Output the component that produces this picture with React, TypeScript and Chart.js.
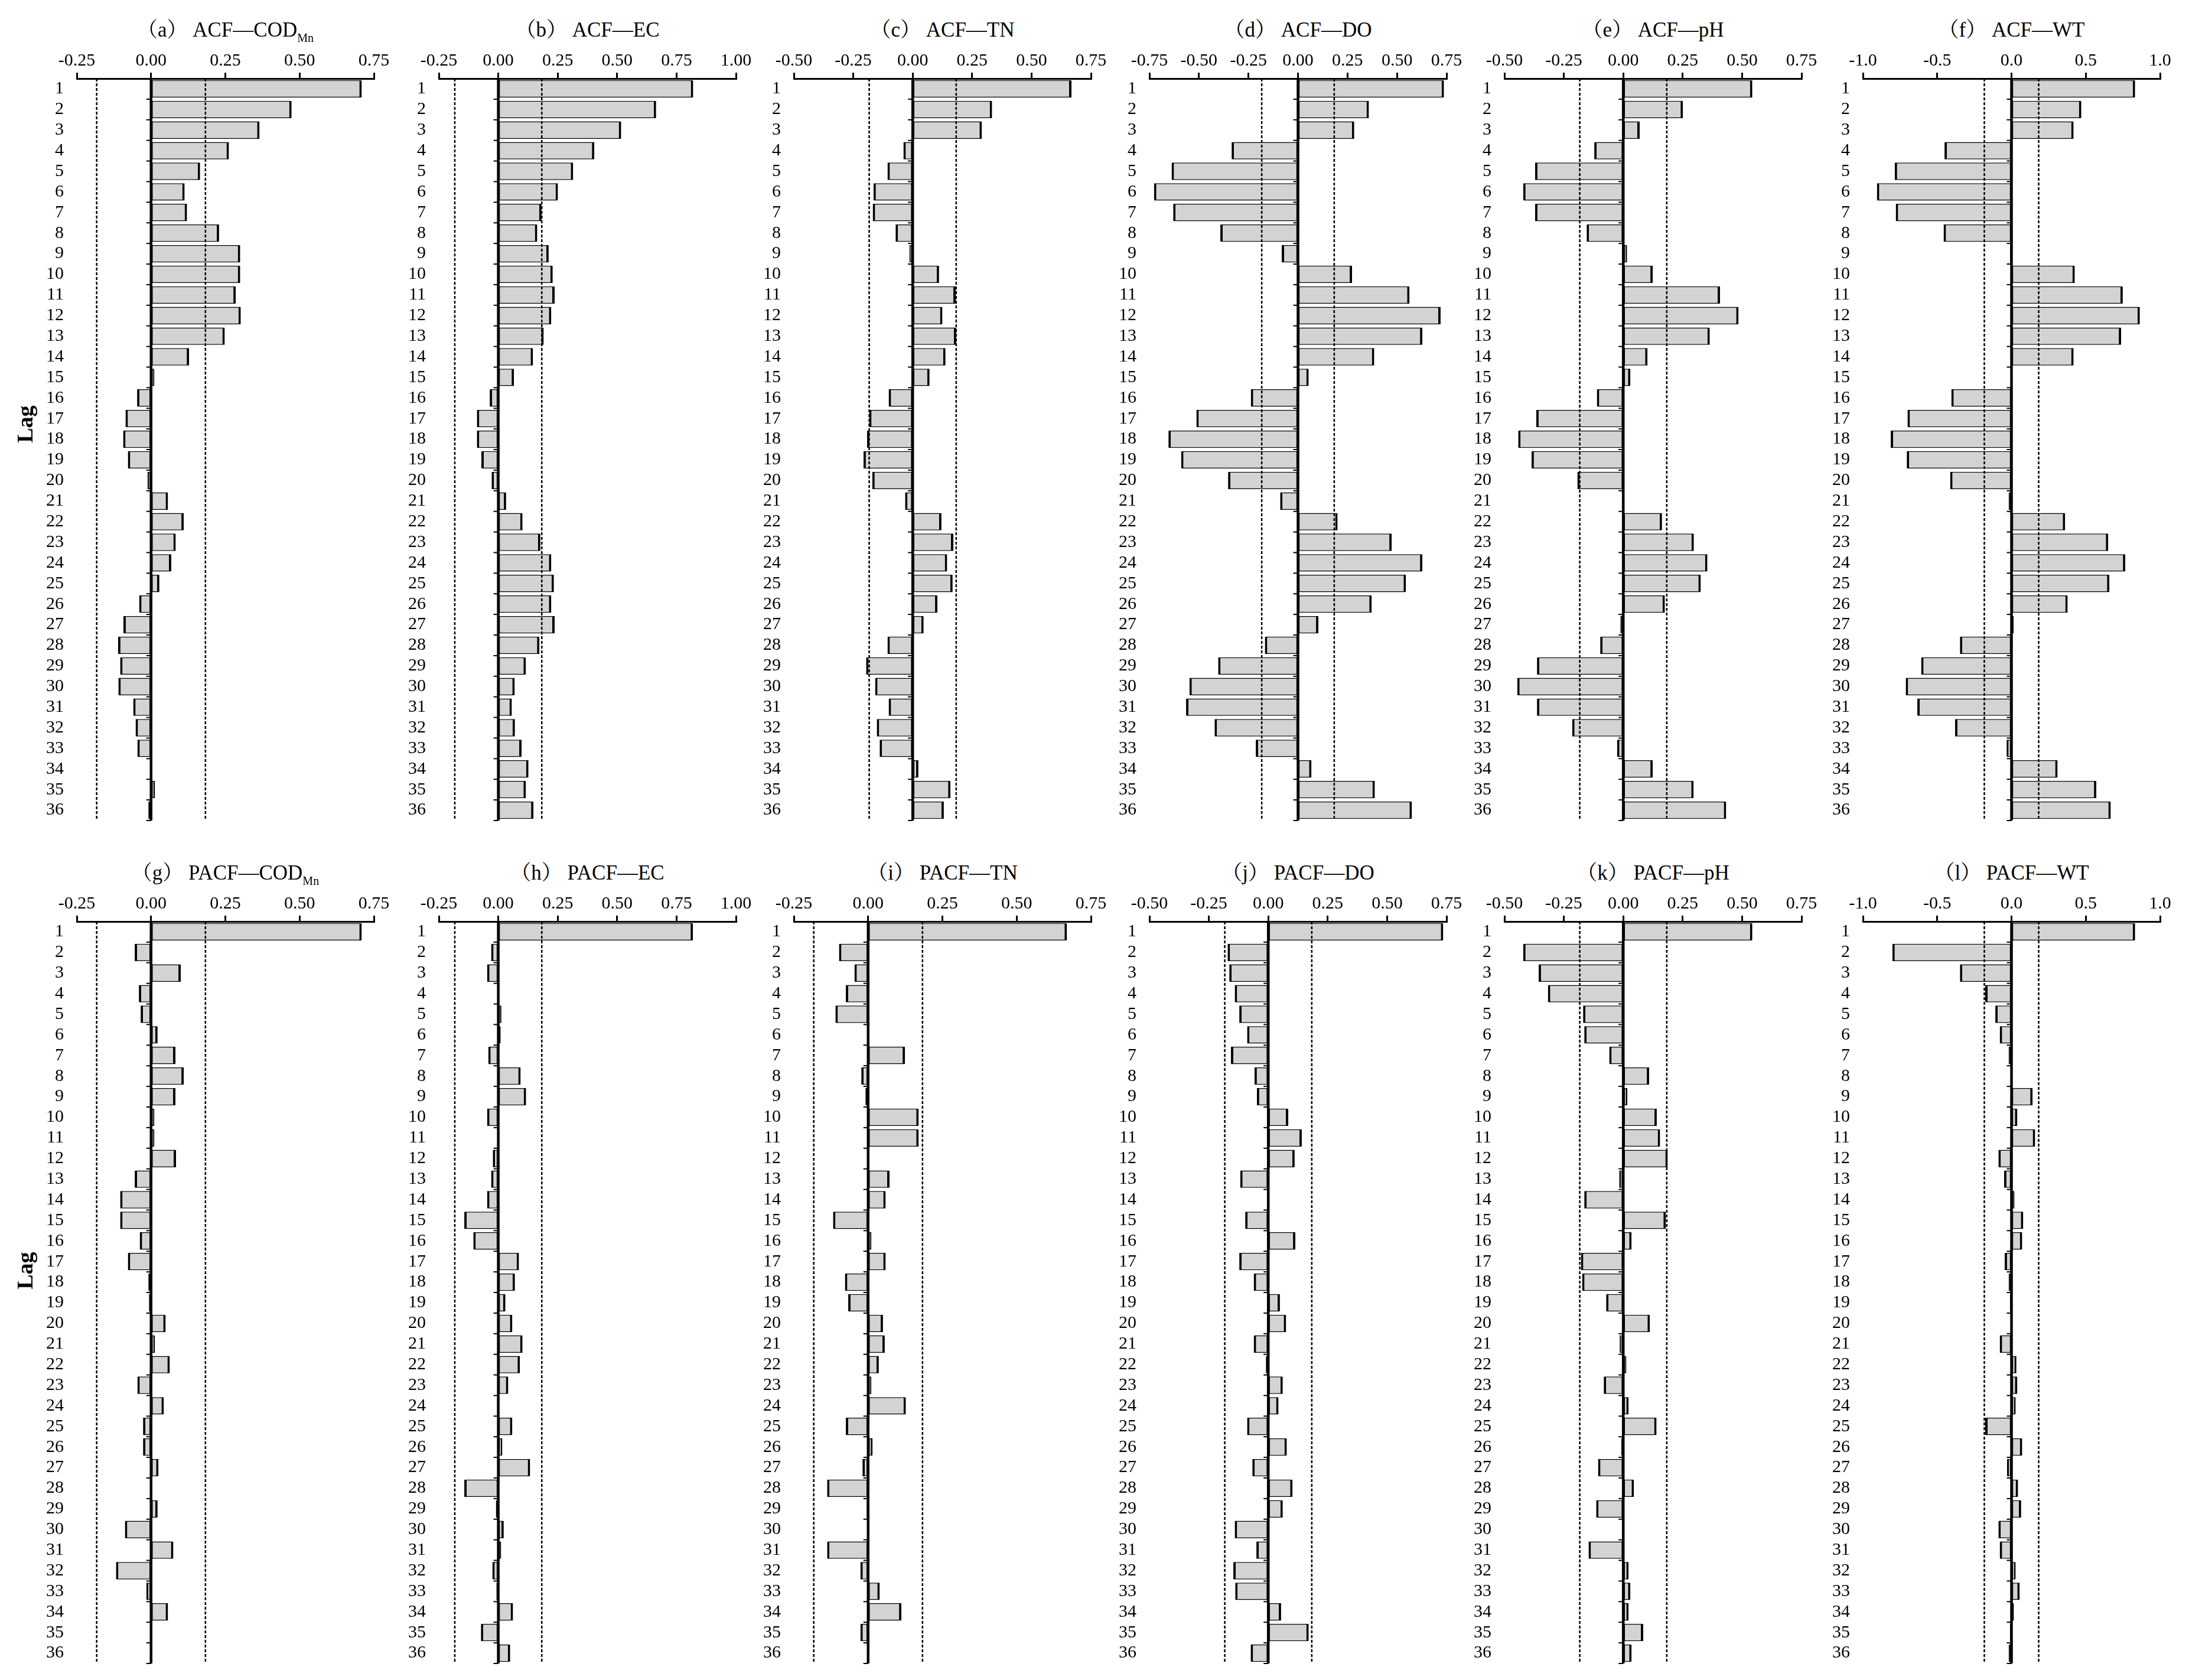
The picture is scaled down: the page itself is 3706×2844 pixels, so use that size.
import React, { useEffect, useRef } from 'react';
import { Chart, registerables } from 'chart.js';

Chart.register(...registerables);

// ---------- data ----------
const LAGS = ['1', '2', '3', '4', '5', '6', '7', '8', '9', '10', '11', '12', '13', '14', '15', '16', '17', '18',
  '19', '20', '21', '22', '23', '24', '25', '26', '27', '28', '29', '30', '31', '32', '33', '34', '35', '36'];

const ACF_CODMN = [0.709, 0.473, 0.365, 0.262, 0.165, 0.113, 0.121, 0.229, 0.300, 0.300, 0.285, 0.302, 0.248, 0.128, 0.011, -0.047, -0.086, -0.094, -0.078, -0.012, 0.057, 0.110, 0.083, 0.068, 0.028, -0.040, -0.093, -0.111, -0.104, -0.110, -0.060, -0.052, -0.046, 0.002, 0.013, -0.009];
const ACF_EC = [0.820, 0.664, 0.517, 0.404, 0.315, 0.251, 0.182, 0.164, 0.212, 0.229, 0.237, 0.223, 0.191, 0.146, 0.066, -0.036, -0.090, -0.090, -0.071, -0.028, 0.033, 0.102, 0.177, 0.223, 0.234, 0.223, 0.237, 0.173, 0.116, 0.069, 0.057, 0.070, 0.098, 0.127, 0.116, 0.148];
const ACF_TN = [0.668, 0.334, 0.291, -0.039, -0.106, -0.165, -0.168, -0.072, -0.014, 0.111, 0.181, 0.125, 0.183, 0.138, 0.071, -0.101, -0.183, -0.192, -0.207, -0.170, -0.032, 0.121, 0.171, 0.145, 0.168, 0.104, 0.046, -0.106, -0.196, -0.158, -0.101, -0.151, -0.139, 0.024, 0.159, 0.131];
const ACF_DO = [0.737, 0.358, 0.284, -0.335, -0.638, -0.727, -0.630, -0.392, -0.082, 0.273, 0.563, 0.720, 0.628, 0.385, 0.054, -0.238, -0.513, -0.654, -0.590, -0.353, -0.090, 0.200, 0.473, 0.628, 0.545, 0.372, 0.103, -0.167, -0.403, -0.548, -0.565, -0.421, -0.213, 0.068, 0.388, 0.575];
const ACF_PH = [0.543, 0.251, 0.069, -0.122, -0.371, -0.421, -0.371, -0.154, 0.016, 0.124, 0.407, 0.485, 0.364, 0.102, 0.030, -0.111, -0.366, -0.442, -0.386, -0.193, 0.000, 0.163, 0.297, 0.354, 0.326, 0.175, -0.012, -0.097, -0.363, -0.446, -0.363, -0.215, -0.026, 0.124, 0.296, 0.433];
const ACF_WT = [0.832, 0.470, 0.418, -0.451, -0.786, -0.906, -0.779, -0.457, -0.010, 0.426, 0.749, 0.864, 0.738, 0.418, 0.000, -0.405, -0.700, -0.813, -0.705, -0.413, -0.019, 0.361, 0.651, 0.766, 0.659, 0.378, 0.014, -0.347, -0.608, -0.712, -0.634, -0.380, -0.033, 0.310, 0.571, 0.668];

const PACF_CODMN = [0.709, -0.055, 0.100, -0.041, -0.035, 0.022, 0.082, 0.110, 0.082, 0.011, 0.011, 0.084, -0.055, -0.104, -0.104, -0.038, -0.078, -0.009, -0.007, 0.049, 0.013, 0.063, -0.046, 0.043, -0.027, -0.027, 0.025, 0.000, 0.022, -0.088, 0.075, -0.118, -0.016, 0.057, 0.000, 0.000];
const PACF_EC = [0.819, -0.030, -0.047, 0.000, 0.013, 0.010, -0.042, 0.094, 0.117, -0.047, 0.000, -0.023, -0.030, -0.047, -0.143, -0.105, 0.087, 0.070, 0.030, 0.059, 0.102, 0.091, 0.042, -0.005, 0.059, 0.017, 0.134, -0.143, -0.010, 0.023, 0.012, -0.025, -0.008, 0.062, -0.073, 0.050];
const PACF_TN = [0.669, -0.098, -0.046, -0.075, -0.110, 0.000, 0.124, -0.023, -0.009, 0.170, 0.170, -0.002, 0.072, 0.059, -0.118, 0.011, 0.059, -0.078, -0.067, 0.050, 0.056, 0.036, 0.011, 0.127, -0.075, 0.015, -0.019, -0.138, -0.005, 0.000, -0.138, -0.026, 0.039, 0.112, -0.026, 0.000];
const PACF_DO = [0.736, -0.171, -0.164, -0.141, -0.122, -0.089, -0.157, -0.058, -0.048, 0.084, 0.141, 0.111, -0.118, 0.005, -0.097, 0.114, -0.122, -0.061, 0.049, 0.075, -0.061, -0.010, 0.061, 0.043, -0.089, 0.078, -0.067, 0.102, 0.061, -0.141, -0.050, -0.147, -0.139, 0.054, 0.170, -0.074];
const PACF_PH = [0.543, -0.421, -0.356, -0.317, -0.169, -0.164, -0.059, 0.109, 0.017, 0.141, 0.155, 0.187, -0.017, -0.164, 0.179, 0.035, -0.178, -0.173, -0.072, 0.112, -0.015, 0.013, -0.082, 0.022, 0.140, -0.008, -0.106, 0.045, -0.114, 0.004, -0.146, 0.022, 0.030, 0.022, 0.084, 0.035];
const PACF_WT = [0.832, -0.802, -0.347, -0.177, -0.109, -0.079, -0.019, 0.000, 0.142, 0.039, 0.159, -0.088, -0.050, 0.020, 0.079, 0.072, -0.046, -0.019, -0.011, -0.003, -0.079, 0.033, 0.039, 0.028, -0.177, 0.072, -0.030, 0.044, 0.065, -0.088, -0.079, 0.028, 0.055, 0.016, -0.011, -0.019];

// tick values of the top axes
const TICKS_A = [-0.25, 0, 0.25, 0.5, 0.75];
const TICKS_B = [-0.25, 0, 0.25, 0.5, 0.75, 1.0];
const TICKS_C = [-0.5, -0.25, 0, 0.25, 0.5, 0.75];
const TICKS_D = [-0.75, -0.5, -0.25, 0, 0.25, 0.5, 0.75];
const TICKS_W = [-1.0, -0.5, 0, 0.5, 1.0];

// 95% confidence limit (dashed lines)
const CONF_LIMIT = 0.183;

const PANELS = [
  { tag: 'a', kind: 'ACF', name: 'COD', sub: 'Mn', values: ACF_CODMN, ticks: TICKS_A, dec: 2 },
  { tag: 'b', kind: 'ACF', name: 'EC', sub: '', values: ACF_EC, ticks: TICKS_B, dec: 2 },
  { tag: 'c', kind: 'ACF', name: 'TN', sub: '', values: ACF_TN, ticks: TICKS_C, dec: 2 },
  { tag: 'd', kind: 'ACF', name: 'DO', sub: '', values: ACF_DO, ticks: TICKS_D, dec: 2 },
  { tag: 'e', kind: 'ACF', name: 'pH', sub: '', values: ACF_PH, ticks: TICKS_C, dec: 2 },
  { tag: 'f', kind: 'ACF', name: 'WT', sub: '', values: ACF_WT, ticks: TICKS_W, dec: 1 },
  { tag: 'g', kind: 'PACF', name: 'COD', sub: 'Mn', values: PACF_CODMN, ticks: TICKS_A, dec: 2 },
  { tag: 'h', kind: 'PACF', name: 'EC', sub: '', values: PACF_EC, ticks: TICKS_B, dec: 2 },
  { tag: 'i', kind: 'PACF', name: 'TN', sub: '', values: PACF_TN, ticks: TICKS_A, dec: 2 },
  { tag: 'j', kind: 'PACF', name: 'DO', sub: '', values: PACF_DO, ticks: TICKS_C, dec: 2 },
  { tag: 'k', kind: 'PACF', name: 'pH', sub: '', values: PACF_PH, ticks: TICKS_C, dec: 2 },
  { tag: 'l', kind: 'PACF', name: 'WT', sub: '', values: PACF_WT, ticks: TICKS_W, dec: 1 },
];

// ---------- layout ----------
const COL_LEFT = [130, 743, 1344, 1946, 2547, 3154];
const ROW_TOP = [133, 1560];
const AREA_W = 503;
const AREA_H = 1256;
const YW = 90;   // width reserved for lag labels
const XH = 60;   // height reserved for top axis
const RP = 45;
const BP = 20;
const FONT = "'Liberation Serif', 'Times New Roman', serif";
const TITLE_FONT = "'Liberation Serif', 'Noto Serif CJK SC', 'Noto Sans CJK SC', serif";

const refLines = {
  id: 'refLines',
  afterDatasetsDraw(chart: any) {
    const { ctx, chartArea, scales } = chart;
    const { top, bottom } = chartArea;
    const x = scales.x;
    ctx.save();
    ctx.strokeStyle = '#000';
    ctx.lineWidth = 2.5;
    ctx.setLineDash([5, 3]);
    for (const c of [-CONF_LIMIT, CONF_LIMIT]) {
      const px = x.getPixelForValue(c);
      ctx.beginPath();
      ctx.moveTo(px, top);
      ctx.lineTo(px, bottom);
      ctx.stroke();
    }
    ctx.setLineDash([]);
    const x0 = x.getPixelForValue(0);
    ctx.lineWidth = 2;
    const n = chart.data.labels.length;
    const h = (bottom - top) / n;
    for (let i = 1; i <= n; i++) {
      const yy = top + i * h;
      ctx.beginPath();
      ctx.moveTo(x0 - 8, yy);
      ctx.lineTo(x0, yy);
      ctx.stroke();
    }
    ctx.lineWidth = 4.5;
    ctx.beginPath();
    ctx.moveTo(x0, top);
    ctx.lineTo(x0, bottom);
    ctx.stroke();
    ctx.restore();
  },
};

function Panel({ p, left, top }: any) {
  const ref = useRef<HTMLCanvasElement>(null);
  const cw = YW + AREA_W + RP;
  const ch = XH + AREA_H + BP;
  useEffect(() => {
    const t = p.ticks;
    const chart = new Chart(ref.current as HTMLCanvasElement, {
      type: 'bar',
      data: {
        labels: LAGS,
        datasets: [{
          data: p.values,
          backgroundColor: '#d3d3d3',
          borderColor: '#000',
          borderSkipped: false,
          borderWidth: (c: any) => (typeof c.raw === 'number' && c.raw < 0)
            ? { top: 1.5, right: 1.5, bottom: 1.5, left: 4 }
            : { top: 1.5, right: 4, bottom: 1.5, left: 1.5 },
          barPercentage: 0.84,
          categoryPercentage: 1,
        }],
      },
      options: {
        indexAxis: 'y',
        responsive: false,
        animation: false,
        devicePixelRatio: 1,
        layout: { padding: { left: 0, top: 0, right: RP, bottom: BP } },
        plugins: { legend: { display: false }, tooltip: { enabled: false }, title: { display: false } },
        scales: {
          x: {
            type: 'linear',
            position: 'top',
            min: t[0],
            max: t[t.length - 1],
            ticks: {
              stepSize: t[1] - t[0],
              autoSkip: false,
              maxRotation: 0,
              padding: 2,
              color: '#000',
              font: { family: FONT, size: 30 },
              callback: (v: any) => Number(v).toFixed(p.dec),
            },
            grid: { display: true, drawOnChartArea: false, drawTicks: true, tickLength: 10, lineWidth: 3, color: '#000' },
            border: { display: true, width: 3, color: '#000' },
            afterFit: (s: any) => { s.height = XH; s.paddingLeft = 0; s.paddingRight = 0; },
          },
          y: {
            type: 'category',
            grid: { display: false },
            border: { display: false },
            ticks: { autoSkip: false, padding: 14, color: '#000', font: { family: FONT, size: 30 } },
            afterFit: (s: any) => { s.width = YW; s.paddingTop = 0; s.paddingBottom = 0; },
          },
        },
      },
      plugins: [refLines],
    } as any);
    return () => chart.destroy();
  }, []);
  return (
    <>
      <canvas
        ref={ref}
        width={cw}
        height={ch}
        style={{ position: 'absolute', left: left - YW, top: top - XH, width: cw, height: ch }}
      />
      <div
        style={{
          position: 'absolute', left: left + AREA_W / 2, top: top - 83,
          transform: 'translate(-50%, -50%)', whiteSpace: 'nowrap',
          fontFamily: TITLE_FONT, fontSize: 35, lineHeight: 1, color: '#000',
        }}
      >
        {'（' + p.tag + '） ' + p.kind + '—' + p.name}
        {p.sub ? <span style={{ fontSize: 20, position: 'relative', top: '0.45em' }}>{p.sub}</span> : null}
      </div>
    </>
  );
}

export default function App() {
  return (
    <div style={{ position: 'absolute', left: 0, top: 0, width: 3706, height: 2844, background: '#fff', overflow: 'hidden' }}>
      {PANELS.map((p, i) => (
        <Panel key={p.tag} p={p} left={COL_LEFT[i % 6]} top={ROW_TOP[Math.floor(i / 6)]} />
      ))}
      {[718, 2151].map((cy) => (
        <div
          key={cy}
          style={{
            position: 'absolute', left: 42, top: cy, transform: 'translate(-50%, -50%) rotate(-90deg)',
            fontFamily: FONT, fontWeight: 'bold', fontSize: 38, lineHeight: 1, color: '#000', whiteSpace: 'nowrap',
          }}
        >
          Lag
        </div>
      ))}
    </div>
  );
}
